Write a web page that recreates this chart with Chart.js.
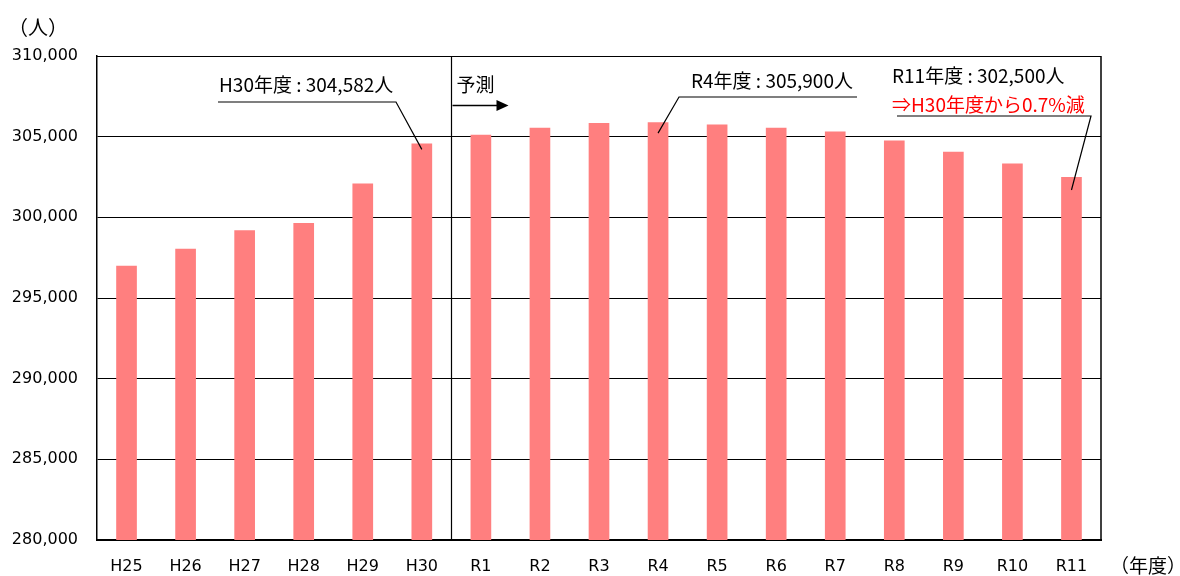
<!DOCTYPE html>
<html><head><meta charset="utf-8">
<script src="https://cdn.jsdelivr.net/npm/chart.js@4"></script>
<style>html,body{margin:0;padding:0;background:#fff}#wrap{width:1180px;height:576px}</style>
</head><body><div id="wrap"><canvas id="c" width="1180" height="576"></canvas></div>
<script>
const categories = ['H25','H26','H27','H28','H29','H30','R1','R2','R3','R4','R5','R6','R7','R8','R9','R10','R11'];
const population = [297000,298050,299200,299650,302100,304582,305120,305560,305850,305900,305750,305560,305320,304760,304070,303340,302500];
const yTicks = [280000,285000,290000,295000,300000,305000,310000];
const callouts = [
  {index:5, lines:[{t:'H30年度 : 304,582人',c:'#000'}]},
  {index:9, lines:[{t:'R4年度 : 305,900人',c:'#000'}]},
  {index:16, lines:[{t:'R11年度 : 302,500人',c:'#000'},{t:'⇒H30年度から0.7%減',c:'#ff0000'}]}
];
const FONT = '"DejaVu Sans","Noto Sans CJK JP",sans-serif';
const JFONT = '"Noto Sans CJK JP","Noto Sans",sans-serif';

const overlay = {
  id:'overlay',
  afterDatasetsDraw(chart){
    const ctx = chart.ctx, xs = chart.scales.x, ys = chart.scales.y, a = chart.chartArea;
    ctx.save();
    ctx.strokeStyle='#000'; ctx.lineWidth=1.5;
    ctx.beginPath(); ctx.moveTo(a.right, a.top); ctx.lineTo(a.right, a.bottom); ctx.stroke();
    ctx.lineWidth=1;
    ctx.beginPath(); ctx.moveTo(a.left, a.top+0.5); ctx.lineTo(a.right, a.top+0.5); ctx.stroke();
    const dx = Math.round((xs.getPixelForValue(5)+xs.getPixelForValue(6))/2)+0.5;
    ctx.lineWidth=1.2;
    ctx.beginPath(); ctx.moveTo(dx, a.top); ctx.lineTo(dx, a.bottom); ctx.stroke();
    ctx.font = '19px '+JFONT; ctx.fillStyle='#000'; ctx.textBaseline='middle'; ctx.textAlign='left';
    ctx.fillText('予測', dx+5, 85);
    ctx.lineWidth=1.5;
    ctx.beginPath(); ctx.moveTo(dx+1, 105.5); ctx.lineTo(dx+46, 105.5); ctx.stroke();
    ctx.beginPath(); ctx.moveTo(dx+57, 105.5); ctx.lineTo(dx+45, 100); ctx.lineTo(dx+45, 111); ctx.closePath(); ctx.fill();
    const layout = [
      {tx:219, ty:[85], lx1:218, lx2:396, ly:102, dy:6},
      {tx:691, ty:[81], lx1:857, lx2:679, ly:97, dy:11},
      {tx:892, ty:[76,105], lx1:897, lx2:1091, ly:116, dy:13}
    ];
    callouts.forEach((co,i)=>{
      const L = layout[i];
      co.lines.forEach((ln,j)=>{ ctx.fillStyle=ln.c; ctx.fillText(ln.t, L.tx, L.ty[j]); });
      const bx = xs.getPixelForValue(co.index), by = ys.getPixelForValue(population[co.index]) + L.dy;
      ctx.strokeStyle='#000'; ctx.lineWidth=1.2;
      ctx.beginPath(); ctx.moveTo(L.lx1, L.ly); ctx.lineTo(L.lx2, L.ly); ctx.lineTo(bx, by); ctx.stroke();
    });
    ctx.fillStyle='#000';
    ctx.font='20px '+JFONT; ctx.textAlign='left'; ctx.fillText('（人）', 8, 27);
    ctx.font='19px '+JFONT; ctx.fillText('（年度）', 1110, 566);
    ctx.restore();
  }
};

new Chart(document.getElementById('c'), {
  type:'bar',
  data:{labels:categories, datasets:[{data:population, backgroundColor:'#ff7f7f', borderWidth:0, barPercentage:0.35, categoryPercentage:1}]},
  options:{
    responsive:false, animation:false, devicePixelRatio:1,
    layout:{padding:{left:0, right:79, top:56, bottom:0}},
    plugins:{legend:{display:false}, tooltip:{enabled:false}},
    scales:{
      x:{
        grid:{display:false, drawTicks:false},
        border:{display:true, color:'#000', width:2},
        ticks:{color:'#000', font:{family:FONT, size:16}, padding:17, maxRotation:0, autoSkip:false},
        afterFit(s){ s.height = 36; }
      },
      y:{
        min:280000, max:310000,
        afterBuildTicks(s){ s.ticks = yTicks.map(v=>({value:v})); },
        grid:{color:'#000', lineWidth:1, drawTicks:false},
        border:{display:true, color:'#000', width:1.5},
        ticks:{color:'#000', font:{family:FONT, size:16}, padding:19, callback:v=>v.toLocaleString('en-US')},
        afterFit(s){ s.width = 97; }
      }
    }
  },
  plugins:[overlay]
});
</script></body></html>
